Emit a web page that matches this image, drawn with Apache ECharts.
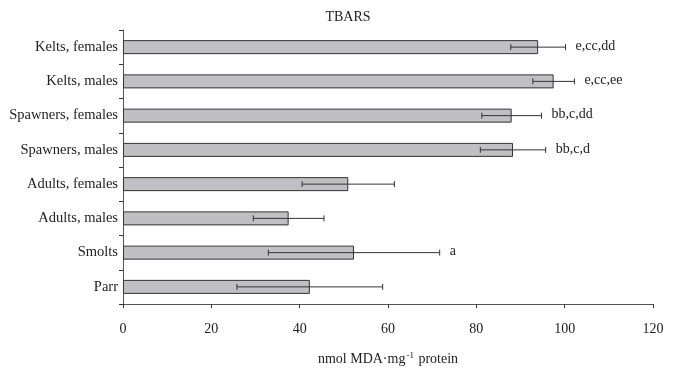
<!DOCTYPE html>
<html>
<head>
<meta charset="utf-8">
<script src="https://cdn.jsdelivr.net/npm/echarts@6/dist/echarts.min.js"></script>
<style>
  html, body { margin: 0; padding: 0; background: #fff; }
  #chart { width: 677px; height: 372px; }
</style>
</head>
<body>
<div id="chart"></div>
<script>
// Groups listed top to bottom
const categories = [
  'Kelts, females', 'Kelts, males', 'Spawners, females', 'Spawners, males',
  'Adults, females', 'Adults, males', 'Smolts', 'Parr'
];
// Mean TBARS (nmol MDA·mg-1 protein) and error half-width
const means = [94.0, 97.5, 88.0, 88.3, 51.0, 37.5, 52.3, 42.3];
const errors = [6.2, 4.7, 6.75, 7.4, 10.45, 8.0, 19.4, 16.5];
// Significance letters next to each bar
const letters = ['e,cc,dd', 'e,cc,ee', 'bb,c,dd', 'bb,c,d', '', '', 'a', ''];
const xTicks = [0, 20, 40, 60, 80, 100, 120];

const FONT = 'Liberation Serif';
const INK = '#222';

const errData = means.map((m, i) => [m - errors[i], m + errors[i], i]);
const labelData = means.map((m, i) => [m + errors[i], i, letters[i]]);

const chart = echarts.init(document.getElementById('chart'), null, { renderer: 'canvas' });
chart.setOption({
  animation: false,
  backgroundColor: '#fff',
  title: {
    text: 'TBARS',
    left: 343, top: 5,
    textAlign: 'center',
    textStyle: { fontFamily: FONT, fontSize: 14, fontWeight: 'normal', color: INK }
  },
  grid: { left: 123, right: 24, top: 30, bottom: 68 },
  xAxis: {
    type: 'value',
    min: xTicks[0], max: xTicks[xTicks.length - 1], interval: 20,
    splitLine: { show: false },
    axisLine: { show: true, lineStyle: { color: '#555', width: 1 } },
    axisTick: { show: true, length: 4, lineStyle: { color: '#333' } },
    axisLabel: { fontFamily: FONT, fontSize: 14, color: INK, margin: 18 },
    name: '{n|nmol MDA·mg}{s|-1}{n| protein}',
    nameLocation: 'middle',
    nameGap: 47,
    nameTextStyle: {
      rich: {
        n: { fontFamily: FONT, fontSize: 14, color: INK },
        s: { fontFamily: FONT, fontSize: 9, color: INK, verticalAlign: 'top', padding: [0, 1, 8, 1] }
      }
    }
  },
  yAxis: {
    type: 'category',
    data: categories,
    inverse: true,
    axisLine: { show: true, lineStyle: { color: '#555', width: 1 } },
    axisTick: { show: true, length: 4, lineStyle: { color: '#333' } },
    axisLabel: { fontFamily: FONT, fontSize: 14.5, color: INK, margin: 5 }
  },
  series: [
    {
      type: 'bar',
      data: means,
      barWidth: 14,
      itemStyle: { color: '#c0c0c4', borderColor: '#333', borderWidth: 1 },
      z: 2
    },
    {
      type: 'custom',
      data: errData,
      z: 3,
      renderItem: function (params, api) {
        const lo = api.coord([api.value(0), api.value(2)]);
        const hi = api.coord([api.value(1), api.value(2)]);
        const y = lo[1];
        const c = 3;
        const style = { stroke: '#333', lineWidth: 1, fill: null };
        return {
          type: 'group',
          children: [
            { type: 'line', shape: { x1: lo[0], y1: y, x2: hi[0], y2: y }, style: style },
            { type: 'line', shape: { x1: lo[0], y1: y - c, x2: lo[0], y2: y + c }, style: style },
            { type: 'line', shape: { x1: hi[0], y1: y - c, x2: hi[0], y2: y + c }, style: style }
          ]
        };
      }
    },
    {
      type: 'custom',
      data: labelData,
      z: 4,
      renderItem: function (params, api) {
        const p = api.coord([api.value(0), api.value(1)]);
        const txt = letters[params.dataIndex];
        if (!txt) return null;
        return {
          type: 'text',
          x: p[0] + 10, y: p[1] - 1,
          style: {
            text: txt, fontFamily: FONT, fontSize: 14, fill: INK,
            textAlign: 'left', textVerticalAlign: 'middle'
          }
        };
      }
    }
  ]
});
</script>
</body>
</html>
